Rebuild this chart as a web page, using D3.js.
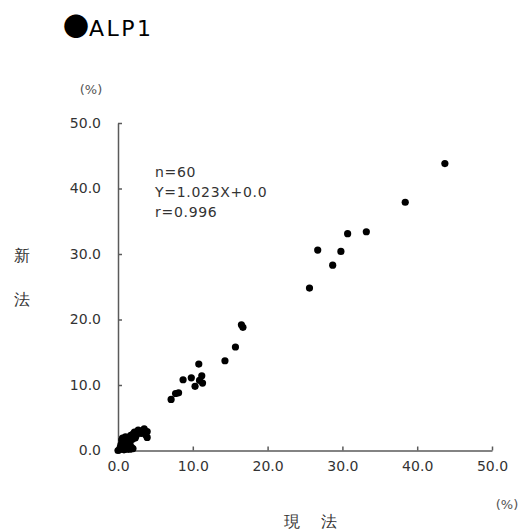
<!DOCTYPE html>
<html>
<head>
<meta charset="utf-8">
<script src="https://cdn.jsdelivr.net/npm/d3@7"></script>
<style>
  html, body { margin: 0; padding: 0; background: #fff; }
  svg { display: block; }
  text { font-family: "DejaVu Sans", sans-serif; }
</style>
</head>
<body>
<svg id="chart" width="521" height="532"></svg>
<script>
// 現法 (current method) values, %
const currentMethod = [
  // cluster near the origin
  0.0, 0.2, 0.5, 0.9, 1.2, 1.6, 2.0, 1.8, 0.4, 1.0, 0.7, 1.4, 0.5, 0.8, 1.5, 1.3, 1.0, 0.6, 1.7,
  1.9, 2.2, 2.4, 2.0, 2.7, 3.1, 3.5, 3.9, 3.9, 3.7, 3.2, 2.9, 1.1, 0.3, 1.3, 2.3, 0.8, 1.6, 2.6,
  // mid range
  7.1, 7.7, 8.1, 8.7, 9.8, 10.3, 10.8, 10.9, 11.2, 11.3, 14.3, 15.7, 16.5, 16.7,
  // high range
  25.6, 26.7, 28.7, 29.8, 30.7, 33.2, 38.4, 43.7
];
// 新法 (new method) values, %
const newMethod = [
  0.0, 0.1, 0.3, 0.3, 0.2, 0.2, 0.3, 0.5, 0.9, 0.8, 0.6, 0.9, 1.6, 1.4, 1.3, 1.8, 2.1, 1.9, 2.3,
  1.7, 2.8, 2.2, 2.5, 3.1, 2.6, 3.3, 2.9, 2.0, 2.4, 3.0, 2.8, 1.1, 0.5, 0.5, 1.9, 0.1, 1.0, 2.6,
  7.8, 8.7, 8.8, 10.8, 11.1, 9.8, 13.2, 10.7, 11.4, 10.3, 13.7, 15.8, 19.2, 18.8,
  24.8, 30.6, 28.3, 30.4, 33.1, 33.4, 37.9, 43.8
];
const tickValues = [0, 10, 20, 30, 40, 50];
const statLines = ["n=60", "Y=1.023X+0.0", "r=0.996"];
const titleText = "ALP1";
const xTitle = ["現", "法"];
const yTitle = ["新", "法"];
const unitLabel = "(%)";

const points = currentMethod.map((v, i) => ({ x: v, y: newMethod[i] }));

const svg = d3.select("#chart");
const x = d3.scaleLinear().domain([0, 50]).range([118, 492]);
const y = d3.scaleLinear().domain([0, 50]).range([450.5, 123]);

const axisColor = "#5a5a5a";
const labelColor = "#333";

// x axis, ticks pointing inward
const gx = svg.append("g")
  .attr("transform", `translate(0,${y(0)})`)
  .call(d3.axisBottom(x).tickValues(tickValues).tickSize(-4).tickSizeOuter(0)
    .tickFormat(d3.format(".1f")));
gx.select(".domain").attr("stroke", axisColor).attr("stroke-width", 1.5);
gx.selectAll(".tick line").attr("stroke", axisColor).attr("stroke-width", 1.5);
gx.selectAll(".tick text")
  .attr("y", 11).attr("dy", "0.71em")
  .attr("font-size", 14).attr("fill", labelColor)
  .attr("font-family", "DejaVu Sans");

// y axis, ticks pointing inward
const gy = svg.append("g")
  .attr("transform", `translate(${x(0)},0)`)
  .call(d3.axisLeft(y).tickValues(tickValues).tickSize(-4).tickSizeOuter(0)
    .tickFormat(d3.format(".1f")));
gy.select(".domain").attr("stroke", axisColor).attr("stroke-width", 1.5);
gy.selectAll(".tick line").attr("stroke", axisColor).attr("stroke-width", 1.5);
gy.selectAll(".tick text")
  .attr("x", -17)
  .attr("font-size", 14).attr("fill", labelColor)
  .attr("font-family", "DejaVu Sans");

// data points
svg.append("g")
  .selectAll("circle")
  .data(points)
  .join("circle")
  .attr("cx", d => x(d.x))
  .attr("cy", d => y(d.y))
  .attr("r", 3.6)
  .attr("fill", "#000");

// regression summary
svg.append("g")
  .selectAll("text")
  .data(statLines)
  .join("text")
  .attr("x", 155)
  .attr("y", (d, i) => 177 + i * 20)
  .attr("font-size", 14)
  .attr("letter-spacing", 0.7)
  .attr("fill", labelColor)
  .text(d => d);

// title
const title = svg.append("text").attr("x", 63).attr("y", 36).attr("fill", "#000");
title.append("tspan").attr("font-family", "Noto Sans CJK JP").attr("font-size", 26).text("●");
title.append("tspan").attr("font-size", 22).attr("letter-spacing", 2.5).text(titleText);

// unit labels
svg.append("text").attr("x", 91).attr("y", 94).attr("text-anchor", "middle")
  .attr("font-size", 13).attr("fill", "#555").text(unitLabel);
svg.append("text").attr("x", 507).attr("y", 509).attr("text-anchor", "middle")
  .attr("font-size", 13).attr("fill", "#555").text(unitLabel);

// axis titles
svg.append("g").selectAll("text").data(yTitle).join("text")
  .attr("x", 22).attr("y", (d, i) => 261 + i * 44)
  .attr("text-anchor", "middle")
  .attr("font-family", "Noto Sans CJK JP").attr("font-size", 16).attr("fill", labelColor)
  .text(d => d);
svg.append("g").selectAll("text").data(xTitle).join("text")
  .attr("x", (d, i) => 292 + i * 37).attr("y", 527)
  .attr("text-anchor", "middle")
  .attr("font-family", "Noto Sans CJK JP").attr("font-size", 16).attr("fill", labelColor)
  .text(d => d);
</script>
</body>
</html>
